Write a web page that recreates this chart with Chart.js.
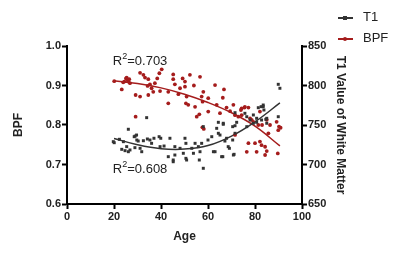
<!DOCTYPE html>
<html>
<head>
<meta charset="utf-8">
<script src="https://cdn.jsdelivr.net/npm/chart.js@4.4.1/dist/chart.umd.min.js"></script>
<style>
  html, body { margin: 0; padding: 0; background: #fff; }
  #wrap { position: relative; width: 400px; height: 254px; }
  #legend { position: absolute; left: 336px; top: 8px; font: 13px "Liberation Sans", Arial, sans-serif; color: #222; }
  .item { position: relative; height: 21px; }
  .line { position: absolute; left: 2px; top: 9px; width: 15px; height: 1.5px; }
  .mark { position: absolute; left: 7px; top: 8px; width: 4px; height: 4px; }
  .lbl { position: absolute; left: 27px; top: 1px; }
</style>
</head>
<body>
<div id="wrap">
  <canvas id="c" width="400" height="254"></canvas>
  <div id="legend">
    <div class="item"><span class="line" style="background:#333"></span><span class="mark" style="background:#333"></span><span class="lbl">T1</span></div>
    <div class="item"><span class="line" style="background:#a51c1c"></span><span class="mark" style="background:#a51c1c;border-radius:50%"></span><span class="lbl">BPF</span></div>
  </div>
</div>
<script>
// Věk a BPF (levá osa)
const bpfAge = [20.1, 23.3, 24.4, 25.1, 25.7, 26.1, 26.5, 26.8, 23.9, 25.4, 31.1, 32.5, 33.2, 34.6, 35.3, 34.3, 36.0, 37.4, 38.4, 39.3,
  40.3, 29.2, 31.1, 34.6, 36.7, 39.6, 29.2, 45.2, 45.2, 45.9, 43.1, 43.1, 48.1, 47.4, 49.2, 50.2, 50.2, 52.3, 50.9, 50.6,
  51.6, 54.0, 54.5, 56.6, 57.3, 58.0, 57.7, 56.3, 55.2, 60.1, 60.1, 63.0, 63.7, 65.1, 66.3, 66.8, 67.9, 69.4, 70.8, 71.5,
  74.3, 75.7, 77.2, 78.6, 82.1, 85.0, 86.4, 89.2, 57.6, 58.2, 71.5, 74.0, 75.5, 74.3, 72.9, 77.9, 79.3, 76.5, 77.2, 80.0,
  80.7, 82.1, 82.8, 84.3, 85.0, 84.3, 89.7, 89.9, 90.9, 85.7, 83.0, 81.4, 90.2];
const bpfValue = [0.911, 0.890, 0.910, 0.918, 0.914, 0.910, 0.916, 0.906, 0.908, 0.920, 0.932, 0.927, 0.920, 0.916, 0.903, 0.899, 0.893, 0.906, 0.918, 0.931,
  0.941, 0.876, 0.872, 0.876, 0.884, 0.886, 0.821, 0.928, 0.916, 0.903, 0.884, 0.855, 0.893, 0.878, 0.918, 0.910, 0.897, 0.927, 0.872, 0.855,
  0.851, 0.900, 0.846, 0.922, 0.872, 0.884, 0.859, 0.827, 0.821, 0.868, 0.834, 0.901, 0.851, 0.830, 0.869, 0.890, 0.844, 0.835, 0.851, 0.825,
  0.842, 0.846, 0.844, 0.813, 0.834, 0.813, 0.800, 0.808, 0.794, 0.790, 0.775, 0.838, 0.844, 0.825, 0.821, 0.817, 0.808, 0.732, 0.754, 0.754,
  0.732, 0.758, 0.749, 0.745, 0.734, 0.724, 0.728, 0.787, 0.793, 0.779, 0.800, 0.800, 0.796];

// Věk a T1 bílé hmoty (pravá osa)
const t1Age = [20.1, 22.3, 26.1, 23.3, 24.7, 26.1, 26.8, 25.4, 29.0, 29.7, 31.1, 31.8, 32.5, 34.2, 35.3, 36.0, 37.0, 39.2, 39.9, 39.6,
  41.3, 43.8, 43.1, 45.2, 45.9, 45.9, 48.1, 50.2, 50.6, 50.6, 50.9, 49.5, 53.1, 53.8, 54.5, 55.9, 56.6, 57.3, 58.0, 60.0,
  61.6, 62.3, 63.7, 64.4, 66.3, 66.5, 67.9, 68.6, 70.5, 70.5, 70.8, 71.5, 76.5, 33.9, 58.0, 64.4, 66.5, 71.5, 72.2, 81.4,
  83.5, 83.8, 79.3, 76.5, 77.9, 80.7, 82.8, 85.0, 89.9, 89.9, 90.6, 83.5, 82.6, 75.7, 80.7, 79.3, 84.6, 85.0, 71.5, 19.7,
  24.0, 28.6, 29.6, 30.3, 28.9, 63.0, 65.8, 65.1, 67.2, 69.1, 71.1, 56.3, 45.2];
const t1Value = [727.6, 731.9, 744.6, 719.2, 717.5, 716.2, 718.4, 722.6, 736.0, 731.0, 720.5, 716.2, 730.1, 732.3, 731.0, 726.8, 733.2, 735.2, 733.2, 722.6,
  723.4, 733.2, 709.9, 703.5, 712.0, 722.6, 720.5, 733.2, 726.8, 707.8, 705.7, 714.2, 720.5, 714.2, 726.8, 722.6, 716.2, 726.8, 695.2, 731.0,
  735.2, 716.2, 745.8, 739.5, 709.9, 752.2, 733.2, 722.6, 747.9, 731.0, 712.0, 739.5, 747.9, 759.3, 747.9, 753.4, 750.9, 749.1, 753.4, 771.9,
  773.2, 769.0, 762.7, 760.5, 756.3, 753.4, 756.3, 758.5, 760.5, 801.5, 796.5, 775.3, 773.2, 764.8, 758.5, 752.2, 757.2, 752.2, 765.6, 728.9,
  728.9, 735.2, 737.3, 729.7, 721.3, 716.2, 709.9, 737.3, 729.7, 720.5, 712.9, 705.7, 705.7];

// Proložené křivky
const fitAge = [20, 30, 40, 50, 60, 70, 80, 90.6];
const bpfFit = [0.912, 0.905, 0.894, 0.878, 0.857, 0.831, 0.797, 0.747];
const t1Fit = [733, 725, 720, 719.5, 724, 736, 754, 778];

// Popisky R²
const r2Text = ['0.703', '0.608'];
const r2Age = [19.5, 19.5];
const r2Bpf = [0.952, 0.678];

const RED = '#a51c1c';
const DARK = '#333333';
const FONT = '"Liberation Sans", Arial, sans-serif';

const pts = (xs, ys) => xs.map((x, i) => ({ x, y: ys[i] }));

const r2Plugin = {
  id: 'r2',
  afterDatasetsDraw(chart) {
    const { ctx, scales } = chart;
    ctx.save();
    ctx.fillStyle = '#222';
    ctx.textBaseline = 'alphabetic';
    r2Text.forEach((txt, i) => {
      let px = scales.x.getPixelForValue(r2Age[i]);
      const py = scales.y.getPixelForValue(r2Bpf[i]);
      ctx.font = `13px ${FONT}`;
      ctx.fillText('R', px, py);
      px += ctx.measureText('R').width;
      ctx.font = `9px ${FONT}`;
      ctx.fillText('2', px, py - 6);
      px += ctx.measureText('2').width;
      ctx.font = `13px ${FONT}`;
      ctx.fillText('=' + txt, px, py);
    });
    ctx.restore();
  },
};

const axisCommon = {
  border: { color: '#000', width: 2 },
  grid: { display: true, drawOnChartArea: false, drawTicks: true, tickLength: 5, tickWidth: 2, tickColor: '#000' },
};

new Chart(document.getElementById('c'), {
  type: 'scatter',
  data: {
    datasets: [
      {
        label: 'T1', data: pts(t1Age, t1Value), yAxisID: 'y1',
        pointStyle: 'rect', pointRadius: 2.1, backgroundColor: DARK, borderWidth: 0,
      },
      {
        label: 'BPF', data: pts(bpfAge, bpfValue), yAxisID: 'y',
        pointStyle: 'circle', pointRadius: 1.9, backgroundColor: RED, borderWidth: 0,
      },
      {
        label: 'T1 fit', type: 'line', data: pts(fitAge, t1Fit), yAxisID: 'y1',
        borderColor: DARK, borderWidth: 1.5, pointRadius: 0, tension: 0.4, fill: false,
      },
      {
        label: 'BPF fit', type: 'line', data: pts(fitAge, bpfFit), yAxisID: 'y',
        borderColor: RED, borderWidth: 1.5, pointRadius: 0, tension: 0.4, fill: false,
      },
    ],
  },
  options: {
    responsive: false,
    animation: false,
    layout: { padding: { left: 0, right: 48, top: 46, bottom: 10 } },
    plugins: { legend: { display: false }, tooltip: { enabled: false } },
    scales: {
      x: {
        ...axisCommon,
        type: 'linear', min: 0, max: 100,
        ticks: { stepSize: 20, color: '#222', font: { family: FONT, size: 11, weight: 'bold' }, padding: 1 },
        title: { display: true, text: 'Age', color: '#222', font: { family: FONT, size: 12, weight: 'bold' }, padding: { top: 4, bottom: 0 } },
        afterFit: (s) => { s.height = 40; },
      },
      y: {
        ...axisCommon,
        position: 'left', min: 0.6, max: 1.0,
        ticks: { stepSize: 0.1, color: '#222', font: { family: FONT, size: 11, weight: 'bold' }, padding: 1, callback: (v) => v.toFixed(1) },
        title: { display: true, text: 'BPF', color: '#222', font: { family: FONT, size: 12, weight: 'bold' }, padding: { top: 11, bottom: 0 } },
        afterFit: (s) => { s.width = 67; },
      },
      y1: {
        ...axisCommon,
        position: 'right', min: 650, max: 850,
        ticks: { stepSize: 50, color: '#222', font: { family: FONT, size: 11, weight: 'bold' }, padding: 1 },
        title: { display: true, text: 'T1 Value of White Matter', color: '#222', font: { family: FONT, size: 12, weight: 'bold' }, padding: { top: 4, bottom: 2 } },
        afterFit: (s) => { s.width = 50; },
      },
    },
  },
  plugins: [r2Plugin],
});
</script>
</body>
</html>
